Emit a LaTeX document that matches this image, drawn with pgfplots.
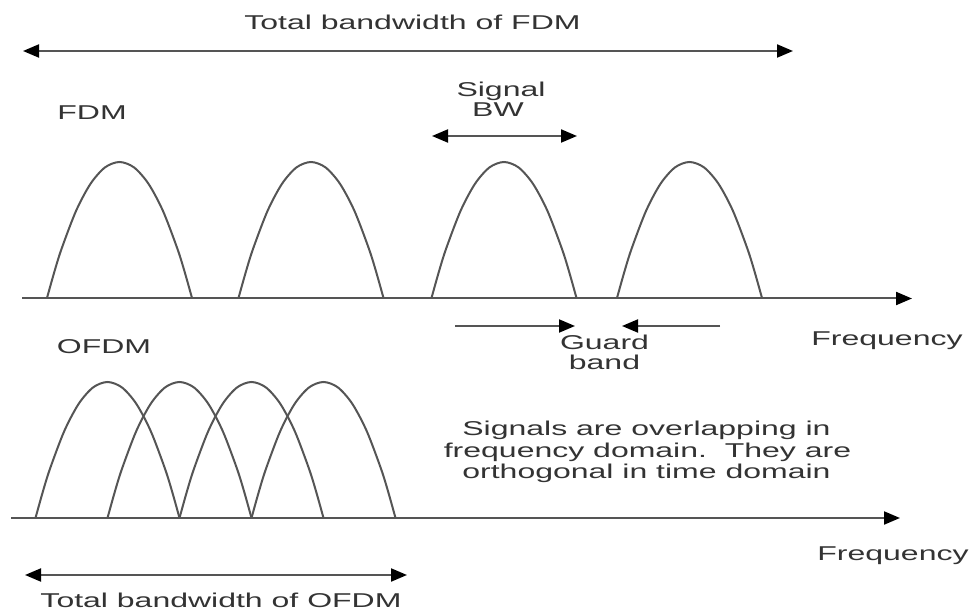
\documentclass[border=0pt]{standalone}
\usepackage{graphicx}
\usepackage{pgfplots}
\pgfplotsset{compat=1.18}
\usepackage{fontspec}
\setmainfont{Liberation Sans}
\usetikzlibrary{arrows.meta}
\definecolor{ln}{HTML}{555555}
\definecolor{tx}{HTML}{333333}
\newcommand{\wt}[1]{\scalebox{1.6}[1]{#1}}
\tikzset{>={Triangle[length=8pt,width=6.5pt,color=black]},
  lbl/.style={font=\fontsize{10pt}{12pt}\selectfont, text=tx, anchor=base, inner sep=0pt}}
\begin{document}
\begin{tikzpicture}
\begin{axis}[hide axis, scale only axis, width=488pt, height=305pt,
  xmin=0, xmax=976, ymin=0, ymax=610, y dir=reverse, clip=false, no markers,
  every axis plot/.append style={line width=1pt, color=ln}]
% ---------- FDM arches ----------
\addplot[smooth] coordinates {(47,298) (54.25,272.2) (61.5,249) (76,211) (90.5,183.8) (105,167.4) (119.5,162) (134,167.4) (148.5,183.8) (163,211) (177.5,249) (184.75,272.2) (192,298)};
\addplot[smooth] coordinates {(238.5,298) (245.75,272.2) (253,249) (267.5,211) (282,183.8) (296.5,167.4) (311,162) (325.5,167.4) (340,183.8) (354.5,211) (369,249) (376.25,272.2) (383.5,298)};
\addplot[smooth] coordinates {(431.5,298) (438.75,272.2) (446,249) (460.5,211) (475,183.8) (489.5,167.4) (504,162) (518.5,167.4) (533,183.8) (547.5,211) (562,249) (569.25,272.2) (576.5,298)};
\addplot[smooth] coordinates {(617,298) (624.25,272.2) (631.5,249) (646,211) (660.5,183.8) (675,167.4) (689.5,162) (704,167.4) (718.5,183.8) (733,211) (747.5,249) (754.75,272.2) (762,298)};
% ---------- OFDM arches ----------
\addplot[smooth] coordinates {(35.5,518) (42.7,492.2) (49.9,469) (64.3,431) (78.7,403.8) (93.1,387.4) (107.5,382) (121.9,387.4) (136.3,403.8) (150.7,431) (165.1,469) (172.3,492.2) (179.5,518)};
\addplot[smooth] coordinates {(107.5,518) (114.7,492.2) (121.9,469) (136.3,431) (150.7,403.8) (165.1,387.4) (179.5,382) (193.9,387.4) (208.3,403.8) (222.7,431) (237.1,469) (244.3,492.2) (251.5,518)};
\addplot[smooth] coordinates {(179.5,518) (186.7,492.2) (193.9,469) (208.3,431) (222.7,403.8) (237.1,387.4) (251.5,382) (265.9,387.4) (280.3,403.8) (294.7,431) (309.1,469) (316.3,492.2) (323.5,518)};
\addplot[smooth] coordinates {(251.5,518) (258.7,492.2) (265.9,469) (280.3,431) (294.7,403.8) (309.1,387.4) (323.5,382) (337.9,387.4) (352.3,403.8) (366.7,431) (381.1,469) (388.3,492.2) (395.5,518)};
% ---------- frequency axes ----------
\addplot[->] coordinates {(22,298.5) (912,298.5)};
\addplot[->] coordinates {(11,518) (900,518)};
% ---------- bandwidth arrows ----------
\addplot[<->] coordinates {(23,51) (793,51)};
\addplot[<->] coordinates {(432,136) (577,136)};
\addplot[->] coordinates {(455,326) (575,326)};
\addplot[->] coordinates {(720,326) (622,326)};
\addplot[<->] coordinates {(25,575) (407,575)};
% ---------- labels ----------
\node[lbl] at (axis cs:412.5,30) {\wt{Total bandwidth of FDM}};
\node[lbl] at (axis cs:92,120) {\wt{FDM}};
\node[lbl] at (axis cs:501,97) {\wt{Signal}};
\node[lbl] at (axis cs:498,117) {\wt{BW}};
\node[lbl] at (axis cs:604.5,350) {\wt{Guard}};
\node[lbl] at (axis cs:604.5,370) {\wt{band}};
\node[lbl] at (axis cs:887,345) {\wt{Frequency}};
\node[lbl] at (axis cs:104,353) {\wt{OFDM}};
\node[lbl] at (axis cs:646.5,435) {\wt{Signals are overlapping in}};
\node[lbl] at (axis cs:647.5,457) {\wt{frequency domain.\ \ They are}};
\node[lbl] at (axis cs:646.5,478) {\wt{orthogonal in time domain}};
\node[lbl] at (axis cs:893,560) {\wt{Frequency}};
\node[lbl] at (axis cs:221,607) {\wt{Total bandwidth of OFDM}};
\end{axis}
\pgfresetboundingbox
\path (current axis.south west) rectangle (current axis.north east);
\end{tikzpicture}
\end{document}
